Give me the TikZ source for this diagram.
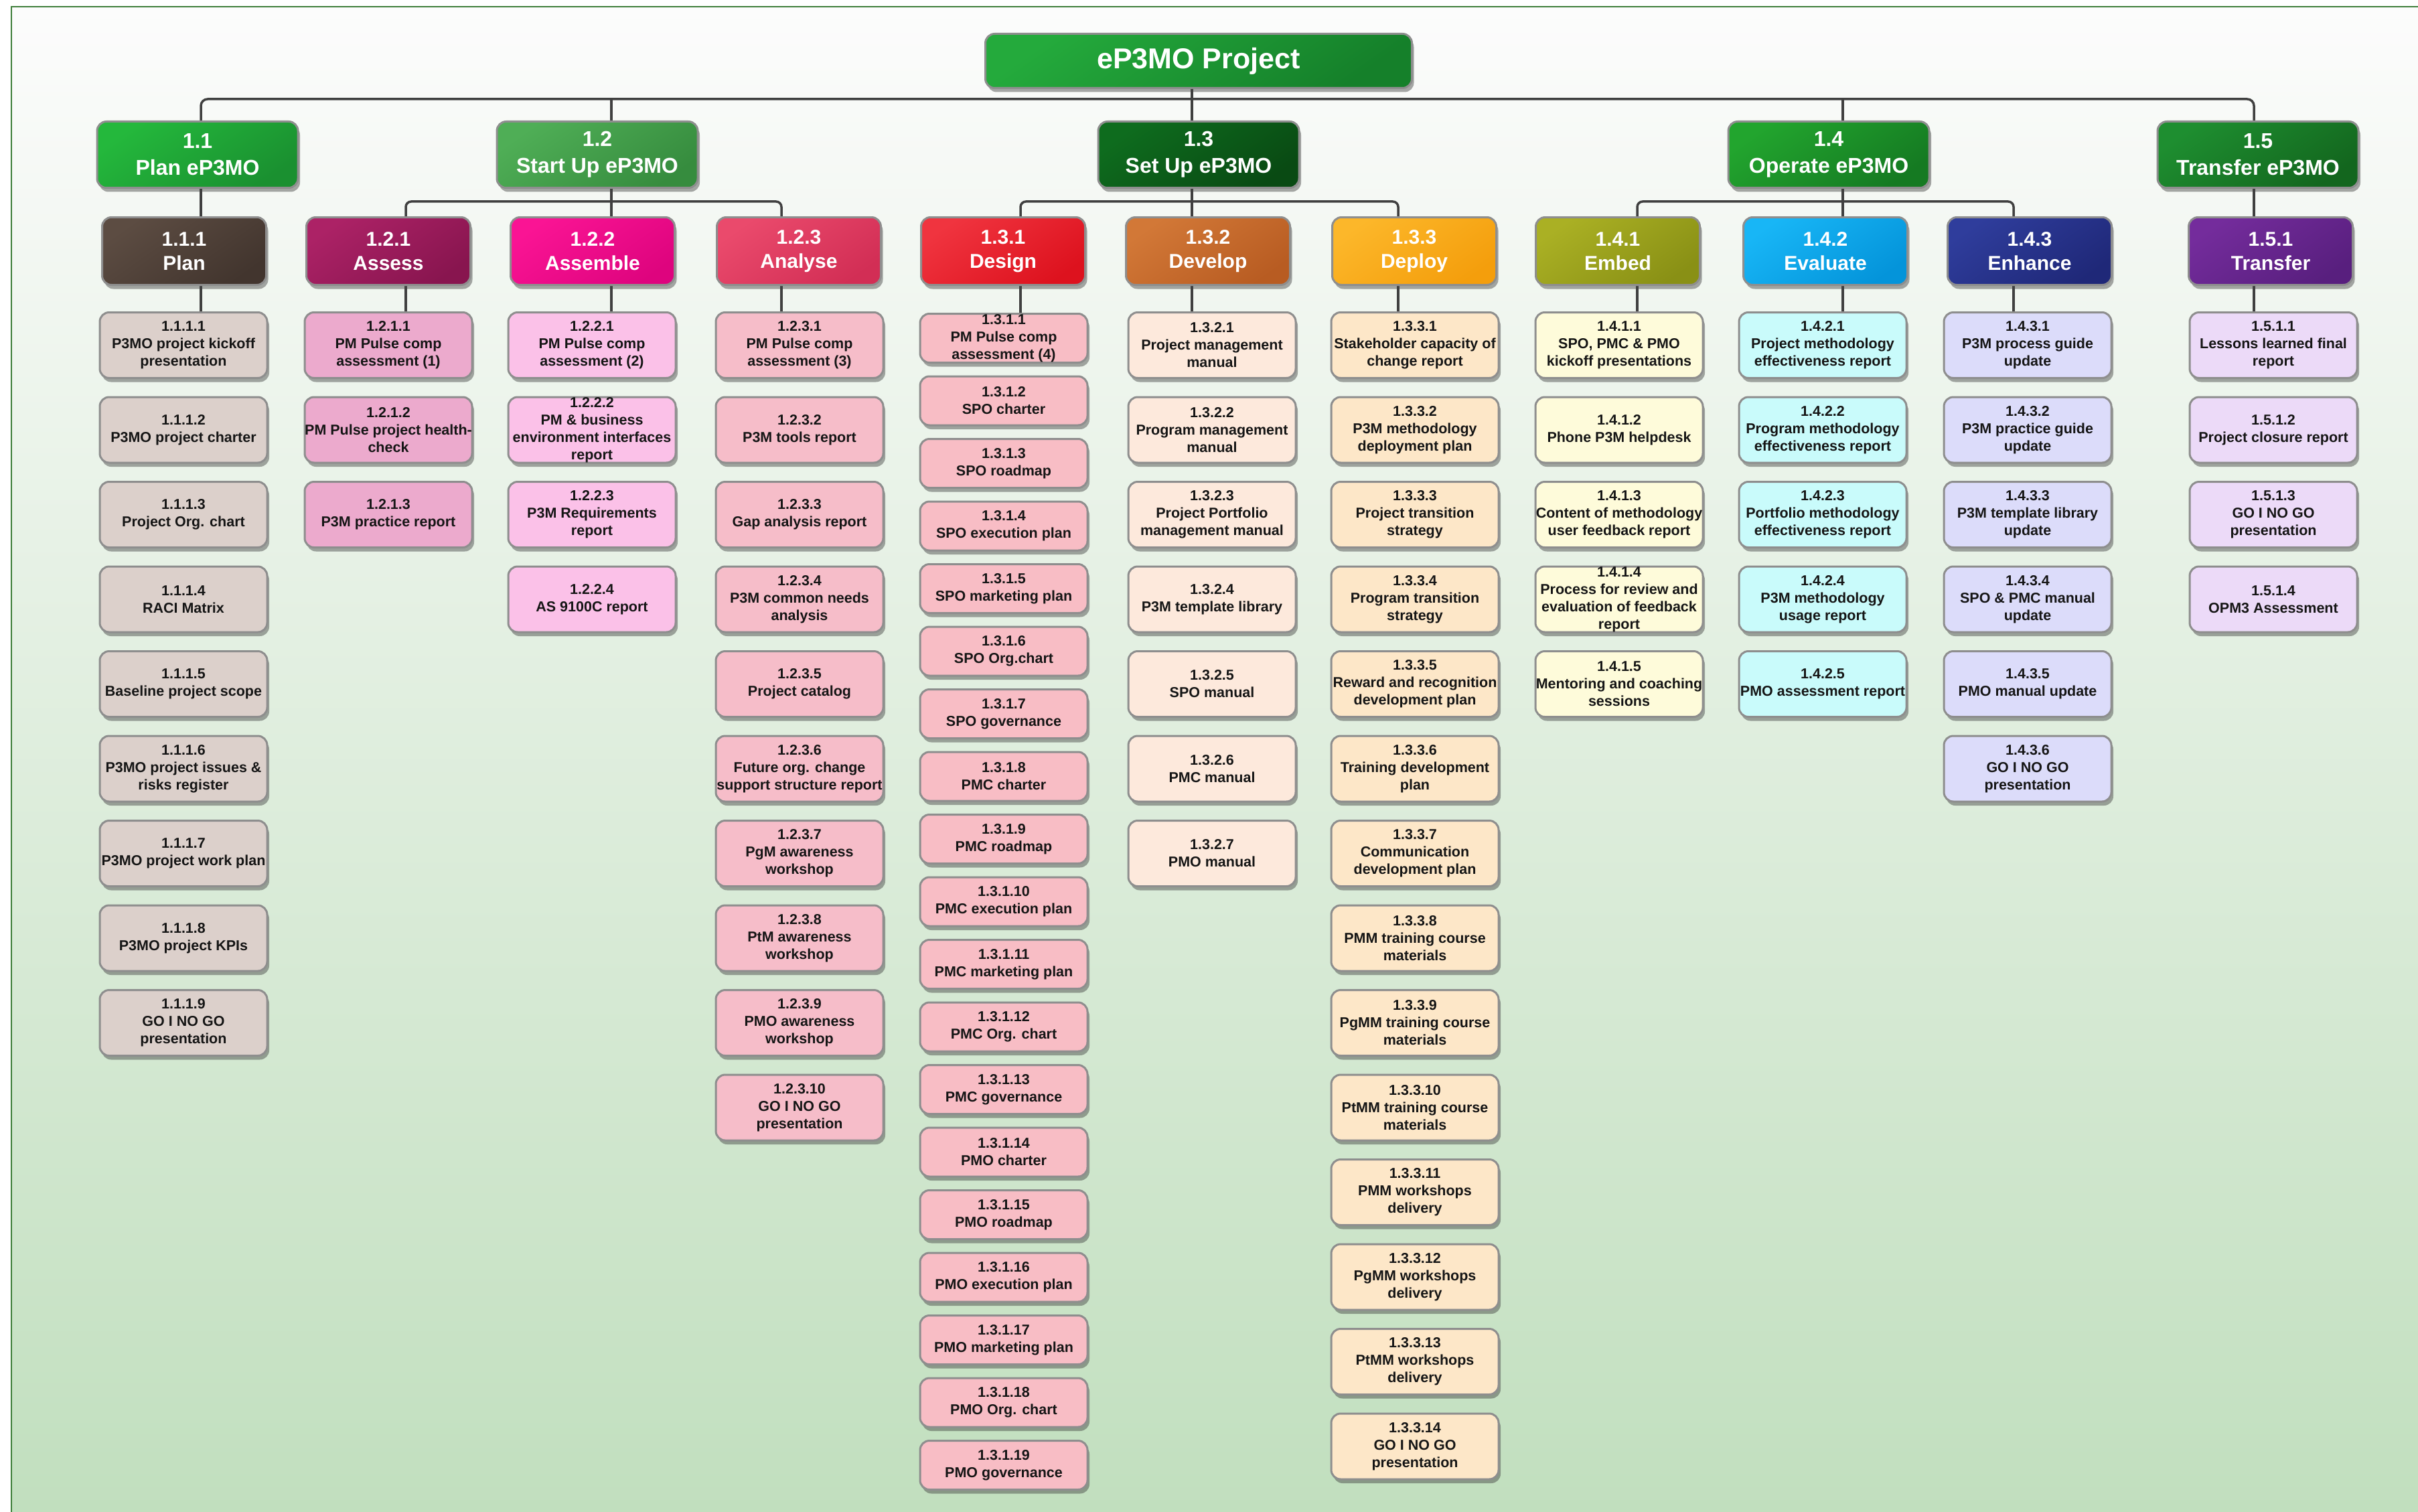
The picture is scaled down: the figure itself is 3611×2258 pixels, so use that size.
\documentclass[tikz,border=0pt]{standalone}
\usepackage{fontspec}
\setmainfont{Liberation Sans}
\usetikzlibrary{shadows}
\pgfdeclarelayer{bg}
\pgfdeclarelayer{wires}
\pgfsetlayers{bg,wires,main}

% page and line colours
\definecolor{pagetop}{HTML}{FCFCFC}
\definecolor{pagebot}{HTML}{C1DFBE}
\definecolor{framec}{HTML}{3E7E3A}
\definecolor{wirec}{HTML}{404040}
\definecolor{boxedge}{HTML}{8E8E8E}
\definecolor{leaftext}{HTML}{151515}
% top of the tree and the five phases
\definecolor{rootA}{HTML}{24AA3C}\definecolor{rootB}{HTML}{15802A}
\definecolor{g11a}{HTML}{24B83C}\definecolor{g11b}{HTML}{1A9030}
\definecolor{g12a}{HTML}{4FAE56}\definecolor{g12b}{HTML}{368C3E}
\definecolor{g13a}{HTML}{0E6C1E}\definecolor{g13b}{HTML}{094A13}
\definecolor{g14a}{HTML}{22A52E}\definecolor{g14b}{HTML}{157A22}
\definecolor{g15a}{HTML}{1E8E30}\definecolor{g15b}{HTML}{13661E}
% work packages
\definecolor{w111a}{HTML}{5C4C42}\definecolor{w111b}{HTML}{42352E}
\definecolor{w121a}{HTML}{AC2266}\definecolor{w121b}{HTML}{88154F}
\definecolor{w122a}{HTML}{FA1494}\definecolor{w122b}{HTML}{DE047E}
\definecolor{w123a}{HTML}{EA4A6C}\definecolor{w123b}{HTML}{D22E55}
\definecolor{w131a}{HTML}{F0343F}\definecolor{w131b}{HTML}{DD121E}
\definecolor{w132a}{HTML}{D27837}\definecolor{w132b}{HTML}{B85C22}
\definecolor{w133a}{HTML}{FCB72A}\definecolor{w133b}{HTML}{F49E0C}
\definecolor{w141a}{HTML}{AAB024}\definecolor{w141b}{HTML}{899015}
\definecolor{w142a}{HTML}{18B6F6}\definecolor{w142b}{HTML}{0494DA}
\definecolor{w143a}{HTML}{2F3D9C}\definecolor{w143b}{HTML}{1F2878}
\definecolor{w151a}{HTML}{742C9C}\definecolor{w151b}{HTML}{581F7E}
% deliverables
\definecolor{d111}{HTML}{DCD0CB}
\definecolor{d121}{HTML}{ECAACD}
\definecolor{d122}{HTML}{FBC1E8}
\definecolor{d123}{HTML}{F6BDC9}
\definecolor{d131}{HTML}{F8BDC5}
\definecolor{d132}{HTML}{FDE9DC}
\definecolor{d133}{HTML}{FDE7C8}
\definecolor{d141}{HTML}{FEFBDA}
\definecolor{d142}{HTML}{C9FBFB}
\definecolor{d143}{HTML}{DCDCFA}
\definecolor{d151}{HTML}{ECDAF8}

\tikzset{
  boxbase/.style={draw=boxedge, line width=3pt, rounded corners=14pt, align=center,
    inner sep=0pt, anchor=north,
    drop shadow={shadow xshift=3pt, shadow yshift=-6pt, opacity=.45, fill=black!75}},
  rootbox/.style={boxbase, minimum width=637pt, minimum height=81pt, text=white,
    top color=rootA, bottom color=rootB, shading angle=35,
    font=\bfseries\fontsize{43}{50}\selectfont},
  phasebox/.style 2 args={boxbase, minimum width=300pt, minimum height=99pt, text=white,
    top color=#1, bottom color=#2, shading angle=35,
    font=\bfseries\fontsize{32}{40}\selectfont},
  groupbox/.style 2 args={boxbase, minimum width=245pt, minimum height=101pt, text=white,
    top color=#1, bottom color=#2, shading angle=35,
    font=\bfseries\fontsize{30}{36}\selectfont},
  leaf/.style={boxbase, minimum width=250pt, minimum height=98pt, fill=#1, text=leaftext,
    font=\bfseries\fontsize{21.5}{26}\selectfont},
  smallleaf/.style={leaf=#1, minimum height=73pt},
  wire/.style={draw=wirec, line width=3.5pt},
}

% one column of deliverables: name prefix, x, style, top y, pitch, items
\newcommand\leafcolumn[6]{%
  \foreach \txt [count=\i from 1] in {#6}{%
    \node[#3] (#1-\i) at (#2,{#4+#5*(\i-1)}) {\txt};
  }}

\begin{document}
\begin{tikzpicture}[x=1pt, y=-1pt]
\useasboundingbox (0,0) rectangle (3611,2258);

% page background and frame
\begin{pgfonlayer}{bg}
  \fill[white] (0,0) rectangle (3611,2258);
  \shade[top color=pagetop, bottom color=pagebot] (17,10) rectangle (3611,2258);
  \draw[framec, line width=2.5pt] (3611,10) -- (17,10) -- (17,2258);
\end{pgfonlayer}

% connector columns and bus heights
\coordinate (bus1) at (0,148);
\coordinate (bus2) at (0,301);
\coordinate (k11) at (300,0);
\coordinate (k12) at (913,0);
\coordinate (k13) at (1780,0);
\coordinate (k14) at (2752,0);
\coordinate (k15) at (3366,0);
\coordinate (k111) at (300,0);
\coordinate (k121) at (606,0);
\coordinate (k122) at (913,0);
\coordinate (k123) at (1167,0);
\coordinate (k131) at (1524,0);
\coordinate (k132) at (1780,0);
\coordinate (k133) at (2088,0);
\coordinate (k141) at (2445,0);
\coordinate (k142) at (2752,0);
\coordinate (k143) at (3007,0);
\coordinate (k151) at (3366,0);

% project
\node[rootbox] (root) at (1790,49) {eP3MO Project};

% phases
\node[phasebox={g11a}{g11b}] (P11) at (295,180) {1.1\\Plan eP3MO};
\node[phasebox={g12a}{g12b}] (P12) at (892,180) {1.2\\Start Up eP3MO};
\node[phasebox={g13a}{g13b}] (P13) at (1790,180) {1.3\\Set Up eP3MO};
\node[phasebox={g14a}{g14b}] (P14) at (2731,180) {1.4\\Operate eP3MO};
\node[phasebox={g15a}{g15b}] (P15) at (3372,180) {1.5\\Transfer eP3MO};

% work packages
\node[groupbox={w111a}{w111b}] (G111) at (275,323) {1.1.1\\Plan};
\node[groupbox={w121a}{w121b}] (G121) at (580,323) {1.2.1\\Assess};
\node[groupbox={w122a}{w122b}] (G122) at (885,323) {1.2.2\\Assemble};
\node[groupbox={w123a}{w123b}] (G123) at (1193,323) {1.2.3\\Analyse};
\node[groupbox={w131a}{w131b}] (G131) at (1498,323) {1.3.1\\Design};
\node[groupbox={w132a}{w132b}] (G132) at (1804,323) {1.3.2\\Develop};
\node[groupbox={w133a}{w133b}] (G133) at (2112,323) {1.3.3\\Deploy};
\node[groupbox={w141a}{w141b}] (G141) at (2416,323) {1.4.1\\Embed};
\node[groupbox={w142a}{w142b}] (G142) at (2726,323) {1.4.2\\Evaluate};
\node[groupbox={w143a}{w143b}] (G143) at (3031,323) {1.4.3\\Enhance};
\node[groupbox={w151a}{w151b}] (G151) at (3391,323) {1.5.1\\Transfer};

% deliverables
\leafcolumn{T111}{274}{leaf=d111}{465}{126.5}{%
  {1.1.1.1\\P3MO project kickoff\\presentation},
  {1.1.1.2\\P3MO project charter},
  {1.1.1.3\\Project Org. chart},
  {1.1.1.4\\RACI Matrix},
  {1.1.1.5\\Baseline project scope},
  {1.1.1.6\\P3MO project issues \&\\risks register},
  {1.1.1.7\\P3MO project work plan},
  {1.1.1.8\\P3MO project KPIs},
  {1.1.1.9\\GO I NO GO\\presentation}}
\leafcolumn{T121}{580}{leaf=d121}{465}{126.5}{%
  {1.2.1.1\\PM Pulse comp\\assessment (1)},
  {1.2.1.2\\PM Pulse project health-\\check},
  {1.2.1.3\\P3M practice report}}
\leafcolumn{T122}{884}{leaf=d122}{465}{126.5}{%
  {1.2.2.1\\PM Pulse comp\\assessment (2)},
  {1.2.2.2\\PM \& business\\environment interfaces\\report},
  {1.2.2.3\\P3M Requirements\\report},
  {1.2.2.4\\AS 9100C report}}
\leafcolumn{T123}{1194}{leaf=d123}{465}{126.5}{%
  {1.2.3.1\\PM Pulse comp\\assessment (3)},
  {1.2.3.2\\P3M tools report},
  {1.2.3.3\\Gap analysis report},
  {1.2.3.4\\P3M common needs\\analysis},
  {1.2.3.5\\Project catalog},
  {1.2.3.6\\Future org. change\\support structure report},
  {1.2.3.7\\PgM awareness\\workshop},
  {1.2.3.8\\PtM awareness\\workshop},
  {1.2.3.9\\PMO awareness\\workshop},
  {1.2.3.10\\GO I NO GO\\presentation}}
\leafcolumn{T131}{1499}{smallleaf=d131}{467}{93.5}{%
  {1.3.1.1\\PM Pulse comp\\assessment (4)},
  {1.3.1.2\\SPO charter},
  {1.3.1.3\\SPO roadmap},
  {1.3.1.4\\SPO execution plan},
  {1.3.1.5\\SPO marketing plan},
  {1.3.1.6\\SPO Org.chart},
  {1.3.1.7\\SPO governance},
  {1.3.1.8\\PMC charter},
  {1.3.1.9\\PMC roadmap},
  {1.3.1.10\\PMC execution plan},
  {1.3.1.11\\PMC marketing plan},
  {1.3.1.12\\PMC Org. chart},
  {1.3.1.13\\PMC governance},
  {1.3.1.14\\PMO charter},
  {1.3.1.15\\PMO roadmap},
  {1.3.1.16\\PMO execution plan},
  {1.3.1.17\\PMO marketing plan},
  {1.3.1.18\\PMO Org. chart},
  {1.3.1.19\\PMO governance}}
\leafcolumn{T132}{1810}{leaf=d132}{465}{126.5}{%
  {1.3.2.1\\Project management\\manual},
  {1.3.2.2\\Program management\\manual},
  {1.3.2.3\\Project Portfolio\\management manual},
  {1.3.2.4\\P3M template library},
  {1.3.2.5\\SPO manual},
  {1.3.2.6\\PMC manual},
  {1.3.2.7\\PMO manual}}
\leafcolumn{T133}{2113}{leaf=d133}{465}{126.5}{%
  {1.3.3.1\\Stakeholder capacity of\\change report},
  {1.3.3.2\\P3M methodology\\deployment plan},
  {1.3.3.3\\Project transition\\strategy},
  {1.3.3.4\\Program transition\\strategy},
  {1.3.3.5\\Reward and recognition\\development plan},
  {1.3.3.6\\Training development\\plan},
  {1.3.3.7\\Communication\\development plan},
  {1.3.3.8\\PMM training course\\materials},
  {1.3.3.9\\PgMM training course\\materials},
  {1.3.3.10\\PtMM training course\\materials},
  {1.3.3.11\\PMM workshops\\delivery},
  {1.3.3.12\\PgMM workshops\\delivery},
  {1.3.3.13\\PtMM workshops\\delivery},
  {1.3.3.14\\GO I NO GO\\presentation}}
\leafcolumn{T141}{2418}{leaf=d141}{465}{126.5}{%
  {1.4.1.1\\SPO, PMC \& PMO\\kickoff presentations},
  {1.4.1.2\\Phone P3M helpdesk},
  {1.4.1.3\\Content of methodology\\user feedback report},
  {1.4.1.4\\Process for review and\\evaluation of feedback\\report},
  {1.4.1.5\\Mentoring and coaching\\sessions}}
\leafcolumn{T142}{2722}{leaf=d142}{465}{126.5}{%
  {1.4.2.1\\Project methodology\\effectiveness report},
  {1.4.2.2\\Program methodology\\effectiveness report},
  {1.4.2.3\\Portfolio methodology\\effectiveness report},
  {1.4.2.4\\P3M methodology\\usage report},
  {1.4.2.5\\PMO assessment report}}
\leafcolumn{T143}{3028}{leaf=d143}{465}{126.5}{%
  {1.4.3.1\\P3M process guide\\update},
  {1.4.3.2\\P3M practice guide\\update},
  {1.4.3.3\\P3M template library\\update},
  {1.4.3.4\\SPO \& PMC manual\\update},
  {1.4.3.5\\PMO manual update},
  {1.4.3.6\\GO I NO GO\\presentation}}
\leafcolumn{T151}{3395}{leaf=d151}{465}{126.5}{%
  {1.5.1.1\\Lessons learned final\\report},
  {1.5.1.2\\Project closure report},
  {1.5.1.3\\GO I NO GO\\presentation},
  {1.5.1.4\\OPM3 Assessment}}

% connectors
\begin{pgfonlayer}{wires}
  % project to phases
  \draw[wire] (root.south -| k13) -- (k13 |- bus1);
  \draw[wire, rounded corners=10pt] (P11.north -| k11) |- (k15 |- bus1) -- (P15.north -| k15);
  \draw[wire] (P12.north -| k12) -- (k12 |- bus1);
  \draw[wire] (P13.north -| k13) -- (k13 |- bus1);
  \draw[wire] (P14.north -| k14) -- (k14 |- bus1);
  % phases to work packages
  \draw[wire] (P11.south -| k111) -- (G111.north -| k111);
  \draw[wire, rounded corners=8pt] (G121.north -| k121) |- (k123 |- bus2) -- (G123.north -| k123);
  \draw[wire] (P12.south -| k122) -- (G122.north -| k122);
  \draw[wire, rounded corners=8pt] (G131.north -| k131) |- (k133 |- bus2) -- (G133.north -| k133);
  \draw[wire] (P13.south -| k132) -- (G132.north -| k132);
  \draw[wire, rounded corners=8pt] (G141.north -| k141) |- (k143 |- bus2) -- (G143.north -| k143);
  \draw[wire] (P14.south -| k142) -- (G142.north -| k142);
  \draw[wire] (P15.south -| k151) -- (G151.north -| k151);
  % work packages to their first deliverable
  \foreach \g in {111,121,122,123,131,132,133,141,142,143,151}{
    \draw[wire] (G\g.south -| k\g) -- (T\g-1.north -| k\g);
  }
\end{pgfonlayer}
\end{tikzpicture}
\end{document}
